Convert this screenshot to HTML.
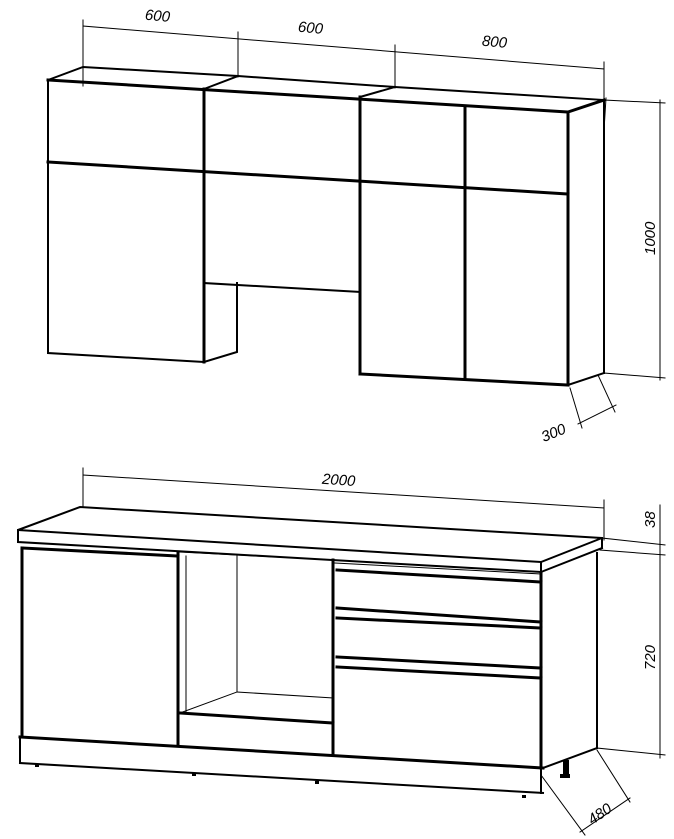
<!DOCTYPE html>
<html><head><meta charset="utf-8"><style>
html,body{margin:0;padding:0;background:#fff;}
svg{display:block;}
text{font-family:"Liberation Sans",sans-serif;font-style:italic;font-size:15px;fill:#000;}
</style></head><body>
<svg width="674" height="839" viewBox="0 0 674 839" xmlns="http://www.w3.org/2000/svg">
<g stroke="#000" fill="none" stroke-linecap="square">
<!-- top dims -->
<g stroke-width="1">
<line x1="83" y1="26" x2="604" y2="69"/>
<line x1="83" y1="20" x2="83" y2="86"/>
<line x1="238" y1="32" x2="238" y2="77"/>
<line x1="395" y1="45" x2="395" y2="88"/>
<line x1="604" y1="62" x2="604" y2="100"/>
<line x1="604" y1="100" x2="665" y2="103"/>
<line x1="604" y1="373" x2="665" y2="378"/>
<line x1="660" y1="100" x2="660" y2="380"/>
<line x1="598" y1="375" x2="615" y2="412"/>
<line x1="570" y1="388" x2="582" y2="428"/>
<line x1="578" y1="424" x2="616" y2="405"/>
<line x1="606" y1="98" x2="604" y2="130"/>
</g>
<!-- top cabinets -->
<g stroke-width="2">
<polyline points="48,80 83,67 238,76 395,87 604,100"/>
<line x1="204" y1="89" x2="238" y2="76"/>
<line x1="360" y1="97" x2="395" y2="87"/>
<polyline points="48,80 48,353 204,362 237,352 237,283"/>
<line x1="604" y1="100" x2="604" y2="373"/>
<line x1="568" y1="385" x2="604" y2="373"/>
<line x1="204" y1="283" x2="360" y2="292"/>
</g>
<g stroke-width="3">
<line x1="48" y1="80" x2="568" y2="112"/>
<line x1="568" y1="112" x2="604" y2="100"/>
<line x1="48" y1="162" x2="568" y2="194"/>
<line x1="204" y1="89" x2="204" y2="362"/>
<line x1="360" y1="97" x2="360" y2="374"/>
<line x1="465" y1="106" x2="465" y2="379"/>
<line x1="568" y1="112" x2="568" y2="385"/>
<line x1="360" y1="374" x2="568" y2="385"/>
</g>
<!-- bottom dims -->
<g stroke-width="1">
<line x1="83" y1="475" x2="604" y2="508"/>
<line x1="83" y1="468" x2="83" y2="507"/>
<line x1="604" y1="500" x2="604" y2="540"/>
<line x1="602" y1="538" x2="665" y2="545"/>
<line x1="600" y1="550" x2="665" y2="555"/>
<line x1="597" y1="748" x2="665" y2="755"/>
<line x1="660" y1="505" x2="660" y2="758"/>
<line x1="541" y1="775" x2="585" y2="835"/>
<line x1="597" y1="750" x2="630" y2="802"/>
<line x1="580" y1="832" x2="630" y2="798"/>
</g>
<!-- countertop -->
<g stroke-width="2">
<polygon points="18,530 80,507 602,538 541,562"/>
<polyline points="18,530 18,542 541,572 541,562"/>
<line x1="541" y1="572" x2="602" y2="548"/>
<line x1="602" y1="538" x2="602" y2="548"/>
<line x1="597" y1="553" x2="597" y2="748"/>
<line x1="543" y1="768" x2="597" y2="748"/>
<line x1="20" y1="763" x2="543" y2="793"/>
<line x1="20" y1="737" x2="20" y2="763"/>
<line x1="541" y1="768" x2="541" y2="793"/>
</g>
<g stroke-width="1">
<line x1="186" y1="556" x2="186" y2="713"/>
<line x1="237" y1="556" x2="237" y2="692"/>
<line x1="237" y1="692" x2="333" y2="698"/>
<line x1="180" y1="713" x2="237" y2="692"/>
<line x1="180" y1="552" x2="335" y2="560"/>
</g>
<g stroke-width="3">
<line x1="22" y1="548" x2="178" y2="556"/>
<line x1="22" y1="548" x2="22" y2="737"/>
<line x1="178" y1="553" x2="178" y2="745"/>
<line x1="20" y1="737" x2="543" y2="768"/>
<line x1="180" y1="713" x2="333" y2="723"/>
<line x1="333" y1="560" x2="333" y2="755"/>
<line x1="337" y1="570" x2="541" y2="582"/>
<line x1="337" y1="608" x2="541" y2="622"/>
<line x1="337" y1="618" x2="541" y2="628"/>
<line x1="337" y1="657" x2="541" y2="668"/>
<line x1="337" y1="667" x2="541" y2="678"/>
<line x1="541" y1="574" x2="541" y2="768"/>
</g>
<g stroke-width="1"><line x1="335" y1="563" x2="541" y2="574"/></g>
</g>
<rect x="563" y="760" width="6" height="16" fill="#000"/>
<rect x="560" y="774" width="10" height="4" fill="#000"/>
<g fill="#000">
<rect x="35" y="764" width="4" height="3"/><rect x="192" y="773" width="4" height="3"/><rect x="315" y="781" width="4" height="3"/><rect x="522" y="795" width="4" height="3"/>
</g>
<text x="145" y="21" transform="rotate(5 160 16)">600</text>
<text x="298" y="33" transform="rotate(5 313 28)">600</text>
<text x="482" y="47" transform="rotate(5 497 42)">800</text>
<text x="655" y="255" transform="rotate(-90 655 255)">1000</text>
<text x="540" y="437" transform="rotate(-22 555 430)">300</text>
<text x="322" y="485" transform="rotate(4 340 480)">2000</text>
<text x="655" y="528" transform="rotate(-90 655 528)">38</text>
<text x="655" y="670" transform="rotate(-90 655 670)">720</text>
<text x="585" y="818" transform="rotate(-35 600 810)">480</text>
</svg>
</body></html>
